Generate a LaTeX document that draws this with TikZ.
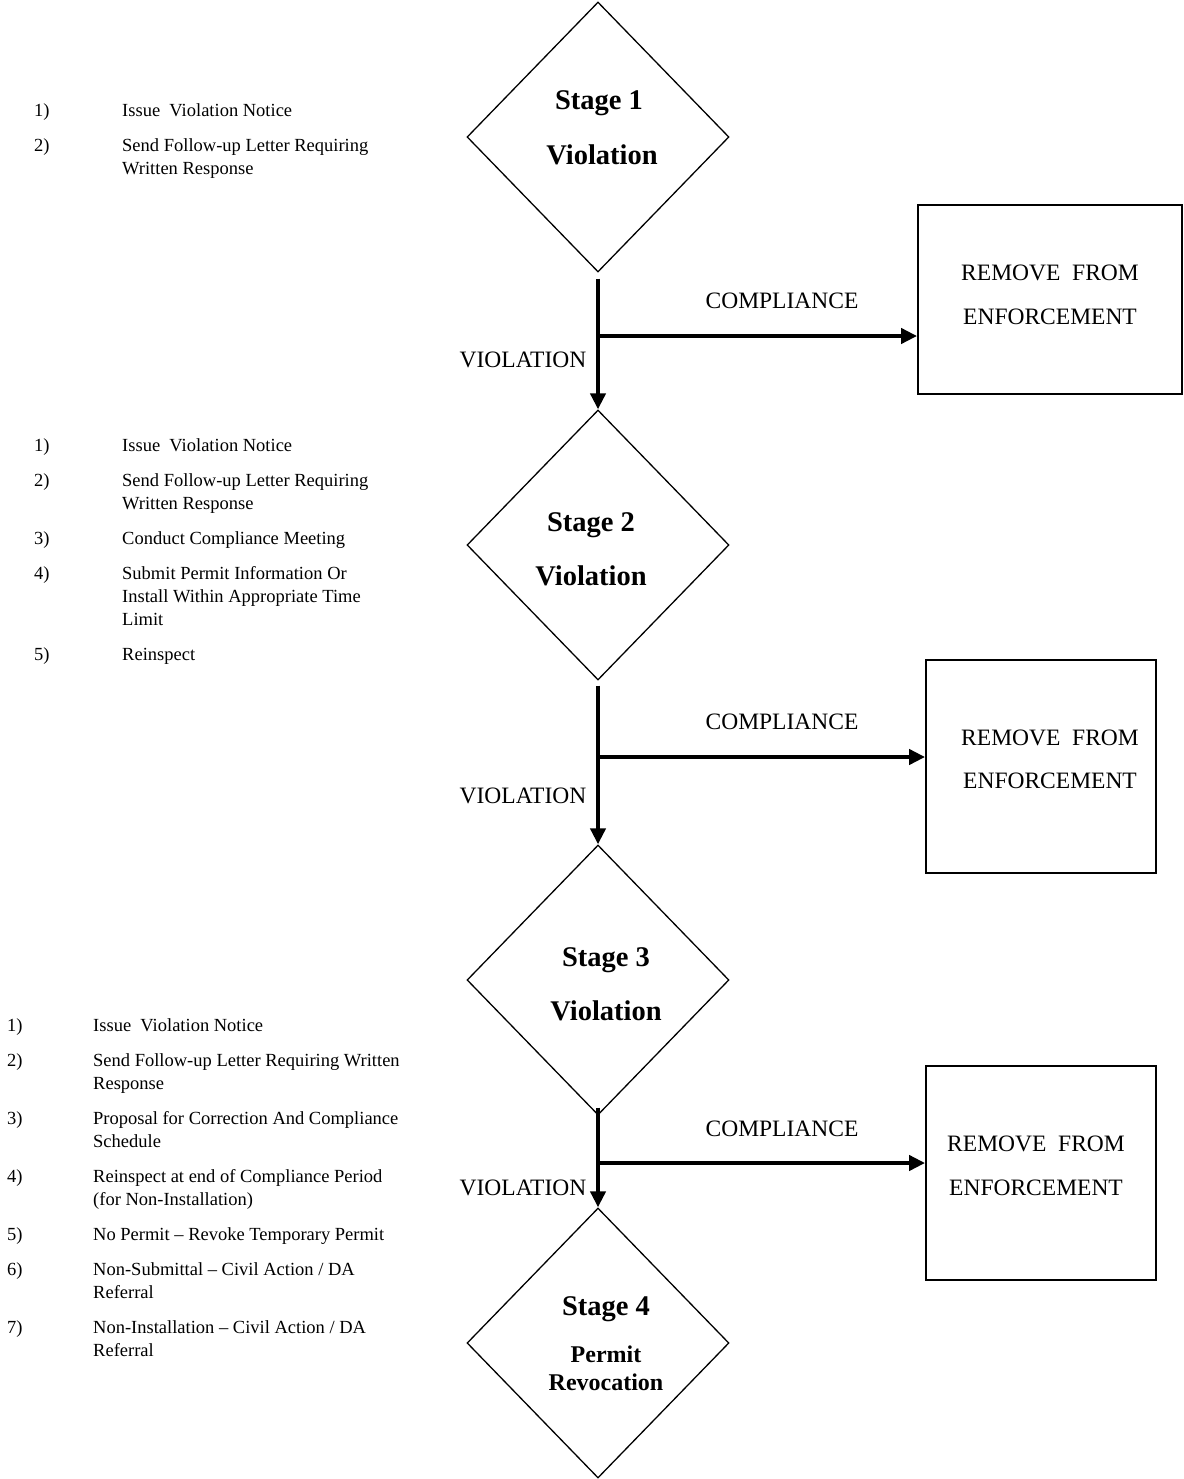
\documentclass[tikz,border=0pt]{standalone}
\usepackage{fontspec}
\setmainfont{Liberation Serif}
\usetikzlibrary{shapes.geometric,arrows.meta,calc}
\newcommand{\itemA}[2]{\makebox[88pt][l]{#1}\parbox[t]{320pt}{\raggedright #2}}
\newcommand{\itemB}[2]{\makebox[86pt][l]{#1}\parbox[t]{340pt}{\raggedright #2}}
\begin{document}
\begin{tikzpicture}[x=1pt,y=-1pt,
 stage/.style={draw,diamond,minimum width=262pt,minimum height=270pt,inner sep=0pt,line width=1.3pt},
 endbox/.style={draw,rectangle,line width=1.8pt,inner sep=0pt},
 flow/.style={line width=4pt,-{Triangle[length=16pt,width=15pt]}},
 lbl/.style={font=\fontsize{23.5}{28}\selectfont,inner sep=0pt},
 stg/.style={font=\fontsize{28.5}{34}\selectfont\bfseries,inner sep=0pt},
 stgs/.style={font=\fontsize{24}{28}\selectfont\bfseries,inner sep=0pt},
 itm/.style={font=\fontsize{18.5}{23}\selectfont,anchor=base west,inner sep=0pt},
]
\useasboundingbox (0,0) rectangle (1183,1479);

% diamonds
\node[stage] (d1) at (598,137) {};
\node[stage] (d2) at (598,545) {};
\node[stage] (d3) at (598,980) {};
\node[stage] (d4) at (598,1343) {};

% boxes
\node[endbox,minimum width=264pt,minimum height=189pt] (b1) at (1050,299.5) {};
\node[endbox,minimum width=230pt,minimum height=213pt] (b2) at (1041,766.5) {};
\node[endbox,minimum width=230pt,minimum height=214pt] (b3) at (1041,1173) {};

% stage texts
\node[stg] (s1a) at (599,103) {Stage 1};
\node[stg] (s1b) at (602,155) {Violation};
\node[stg] (s2a) at (591,525) {Stage 2};
\node[stg] (s2b) at (591,576) {Violation};
\node[stg] (s3a) at (606,960) {Stage 3};
\node[stg] (s3b) at (606,1011) {Violation};
\node[stg] (s4a) at (606,1309) {Stage 4};
\node[stgs] (s4b) at (606,1354) {Permit};
\node[stgs] (s4c) at (606,1382) {Revocation};

% box texts
\node[lbl] (t1a) at (1050,273) {REMOVE\ \ FROM};
\node[lbl] (t1b) at (1050,317) {ENFORCEMENT};
\node[lbl] (t2a) at (1050,738) {REMOVE\ \ FROM};
\node[lbl] (t2b) at (1050,781) {ENFORCEMENT};
\node[lbl] (t3a) at (1036,1144) {REMOVE\ \ FROM};
\node[lbl] (t3b) at (1036,1188) {ENFORCEMENT};

% connectors
\coordinate (j1) at (598,336);
\coordinate (j2) at (598,757);
\coordinate (j3) at (598,1163);
\draw[flow] ([yshift=-6pt]d1.south) -- (d2.north);
\draw[flow] ([yshift=-5pt]d2.south) -- (d3.north);
\draw[flow] ([yshift=8pt]d3.south) -- (d4.north);
\draw[flow] (j1) -- (j1 -| b1.west);
\draw[flow] (j2) -- (j2 -| b2.west);
\draw[flow] (j3) -- (j3 -| b3.west);

\node[lbl] (c1) at (782,301) {COMPLIANCE};
\node[lbl] (v1) at (523,360) {VIOLATION};
\node[lbl] (c2) at (782,722) {COMPLIANCE};
\node[lbl] (v2) at (523,796) {VIOLATION};
\node[lbl] (c3) at (782,1129) {COMPLIANCE};
\node[lbl] (v3) at (523,1188) {VIOLATION};

% list 1
\node[itm] (i11) at (34,117) {\itemA{1)}{Issue\ \ Violation Notice}};
\node[itm] (i12) at (34,152) {\itemA{2)}{Send Follow-up Letter Requiring\\Written Response}};

% list 2
\node[itm] (i21) at (34,451) {\itemA{1)}{Issue\ \ Violation Notice}};
\node[itm] (i22) at (34,486) {\itemA{2)}{Send Follow-up Letter Requiring\\Written Response}};
\node[itm] (i23) at (34,544) {\itemA{3)}{Conduct Compliance Meeting}};
\node[itm] (i24) at (34,579) {\itemA{4)}{Submit Permit Information Or\\Install Within Appropriate Time\\Limit}};
\node[itm] (i25) at (34,660) {\itemA{5)}{Reinspect}};

% list 3
\node[itm] (i31) at (7,1031) {\itemB{1)}{Issue\ \ Violation Notice}};
\node[itm] (i32) at (7,1066) {\itemB{2)}{Send Follow-up Letter Requiring Written\\Response}};
\node[itm] (i33) at (7,1124) {\itemB{3)}{Proposal for Correction And Compliance\\Schedule}};
\node[itm] (i34) at (7,1182) {\itemB{4)}{Reinspect at end of Compliance Period\\(for Non-Installation)}};
\node[itm] (i35) at (7,1240) {\itemB{5)}{No Permit -- Revoke Temporary Permit}};
\node[itm] (i36) at (7,1275) {\itemB{6)}{Non-Submittal -- Civil Action / DA\\Referral}};
\node[itm] (i37) at (7,1333) {\itemB{7)}{Non-Installation -- Civil Action / DA\\Referral}};
\end{tikzpicture}
\end{document}
